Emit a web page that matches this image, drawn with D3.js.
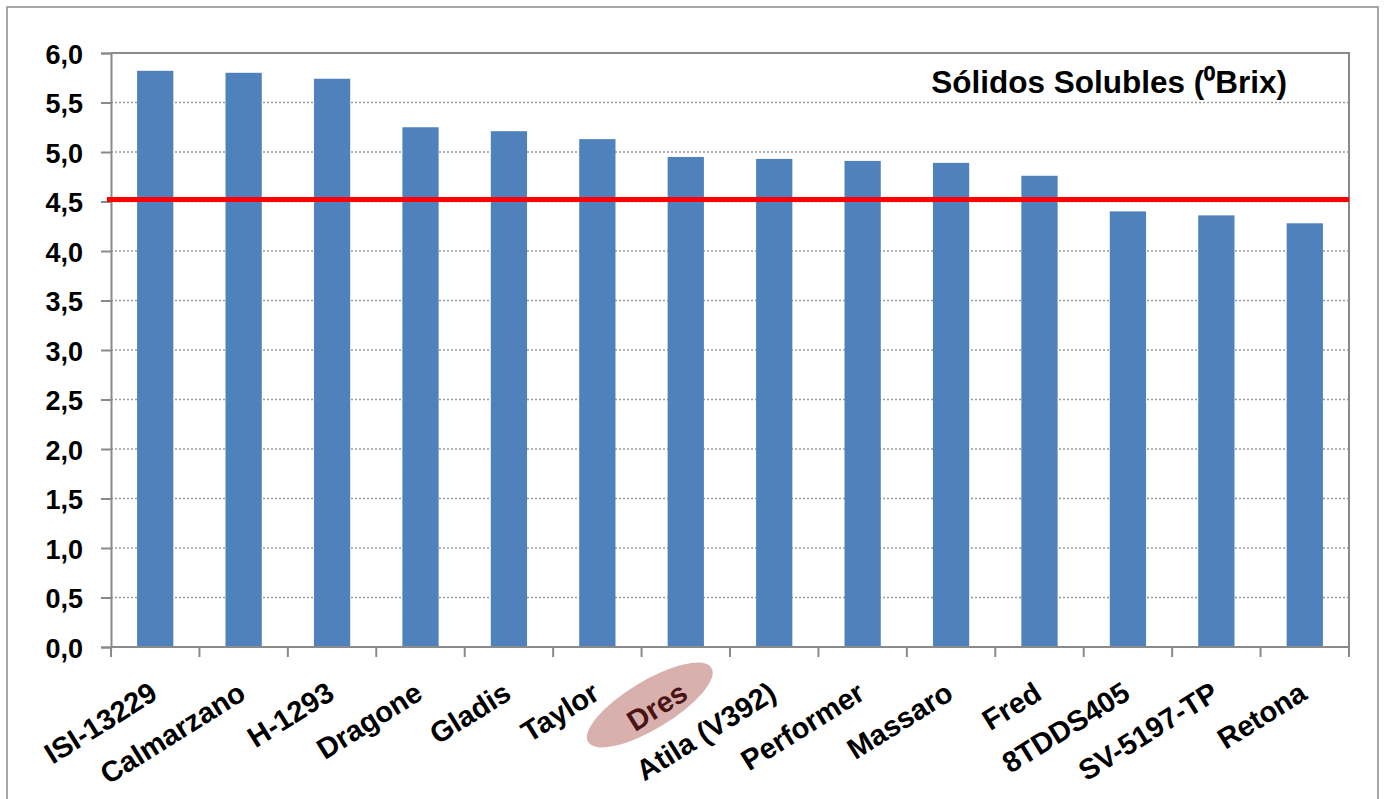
<!DOCTYPE html>
<html>
<head>
<meta charset="utf-8">
<script src="https://cdn.jsdelivr.net/npm/d3@7"></script>
<style>
  body { margin: 0; background: #fff; }
  text { font-family: "Liberation Sans", Arial, sans-serif; font-weight: bold; }
</style>
</head>
<body>
<div id="chart"></div>
<script>
// data
const varieties = ["ISI-13229", "Calmarzano", "H-1293", "Dragone", "Gladis", "Taylor", "Dres",
  "Atila (V392)", "Performer", "Massaro", "Fred", "8TDDS405", "SV-5197-TP", "Retona"];
const brix = [5.82, 5.80, 5.74, 5.25, 5.21, 5.13, 4.95, 4.93, 4.91, 4.89, 4.76, 4.40, 4.36, 4.28];
const yTicks = [0, 0.5, 1, 1.5, 2, 2.5, 3, 3.5, 4, 4.5, 5, 5.5, 6];
const threshold = 4.52;
const highlighted = "Dres";
const title = "Sólidos Solubles (⁰Brix)";

/** CONSTANTS */
const width = 1385;
const height = 799;
const margins = { top: 53, bottom: 152, left: 111, right: 36 };
const data = varieties.map((v, i) => ({ variety: v, value: brix[i] }));

/** SCALES */
const xScale = d3.scaleBand()
  .domain(varieties)
  .range([margins.left, width - margins.right])
  .paddingInner(.59)
  .paddingOuter(.295)

const yScale = d3.scaleLinear()
  .domain([0, 6])
  .range([height - margins.bottom, margins.top])

const step = xScale.step();
const center = d => xScale(d) + xScale.bandwidth() / 2;

/** DRAWING ELEMENTS */
const svg = d3.select('#chart')
  .append("svg")
  .attr("width", width)
  .attr("height", height)

// outer frame
svg.append("rect")
  .attr("x", 7).attr("y", 7)
  .attr("width", 1371).attr("height", 820)
  .attr("fill", "none")
  .attr("stroke", "#8a8a8a")
  .attr("stroke-width", 1.5)

// dotted gridlines
svg.selectAll("line.grid")
  .data(yTicks.filter(t => t > 0 && t < 6))
  .join("line")
  .attr("class", "grid")
  .attr("x1", margins.left).attr("x2", width - margins.right)
  .attr("y1", d => yScale(d)).attr("y2", d => yScale(d))
  .attr("stroke", "#9a9a9a")
  .attr("stroke-width", 1.5)
  .attr("stroke-dasharray", "2,2")

// plot area border (top and right)
svg.append("path")
  .attr("d", `M${margins.left},${yScale(6)}H${width - margins.right}V${yScale(0)}`)
  .attr("fill", "none")
  .attr("stroke", "#8a8a8a")
  .attr("stroke-width", 2)

// bars
svg.selectAll("rect.bar")
  .data(data)
  .join("rect")
  .attr("class", "bar")
  .attr("x", d => xScale(d.variety))
  .attr("y", d => yScale(d.value))
  .attr("width", xScale.bandwidth())
  .attr("height", d => yScale(0) - yScale(d.value))
  .attr("fill", "#4f81bd")

// y axis
const yAxis = d3.axisLeft(yScale)
  .tickValues(yTicks)
  .tickSize(10)
  .tickPadding(18)
  .tickFormat(d => d3.format(".1f")(d).replace(".", ","))

const gy = svg.append("g")
  .attr("transform", `translate(${margins.left},0)`)
  .call(yAxis)
gy.select(".domain").attr("stroke", "#8a8a8a").attr("stroke-width", 2)
gy.selectAll(".tick line").attr("stroke", "#8a8a8a").attr("stroke-width", 2)
gy.selectAll(".tick text")
  .attr("font-size", 27)
  .attr("fill", "#000")
  .attr("dy", "0.38em")

// x axis line and ticks at category boundaries
const xEdges = d3.range(varieties.length + 1).map(i => margins.left + i * step);
svg.append("line")
  .attr("x1", margins.left).attr("x2", width - margins.right)
  .attr("y1", yScale(0)).attr("y2", yScale(0))
  .attr("stroke", "#8a8a8a").attr("stroke-width", 2)
svg.selectAll("line.xtick")
  .data(xEdges)
  .join("line")
  .attr("class", "xtick")
  .attr("x1", d => d).attr("x2", d => d)
  .attr("y1", yScale(0)).attr("y2", yScale(0) + 10)
  .attr("stroke", "#8a8a8a").attr("stroke-width", 2)

// threshold line
svg.append("line")
  .attr("x1", margins.left - 4).attr("x2", width - margins.right)
  .attr("y1", yScale(threshold)).attr("y2", yScale(threshold))
  .attr("stroke", "#ff0000")
  .attr("stroke-width", 5)

// highlight ellipse behind the Dres label
svg.append("ellipse")
  .attr("transform", `translate(${center(highlighted) - 36},${yScale(0) + 58}) rotate(-31)`)
  .attr("rx", 72).attr("ry", 24)
  .attr("fill", "#d8b1af")

// rotated category labels
svg.selectAll("text.variety")
  .data(varieties)
  .join("text")
  .attr("class", "variety")
  .attr("transform", d => `translate(${center(d) + 4},${yScale(0) + 51}) rotate(-32)`)
  .attr("text-anchor", "end")
  .attr("font-size", 29)
  .attr("fill", d => d === highlighted ? "#4a1414" : "#000")
  .text(d => d)

// title
svg.append("text")
  .attr("x", 1287).attr("y", 93)
  .attr("text-anchor", "end")
  .attr("font-size", 31.5)
  .text(title)
</script>
</body>
</html>
